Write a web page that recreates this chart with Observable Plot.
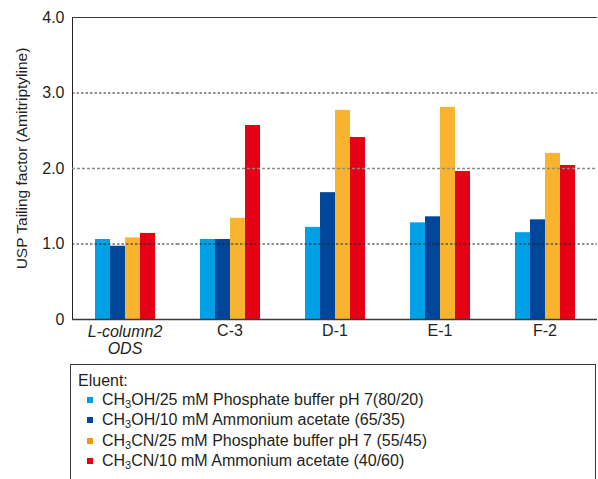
<!DOCTYPE html>
<html>
<head>
<meta charset="utf-8">
<script src="https://cdn.jsdelivr.net/npm/d3@7"></script>
<script src="https://cdn.jsdelivr.net/npm/@observablehq/plot@0.6"></script>
<style>
  html, body { margin: 0; padding: 0; background: #fff; }
  body { width: 598px; height: 479px; overflow: hidden; position: relative; font-family: "Liberation Sans", Arial, sans-serif; color: #231f20; }
  #legend { position: absolute; left: 70px; top: 364px; width: 526px; height: 140px; border: 1.5px solid #3a3a3a; box-sizing: border-box; font-size: 16px; }
  #legend .title { position: absolute; left: 7px; top: 7px; }
  #legend .row { position: absolute; left: 16px; display: flex; align-items: center; white-space: nowrap; }
  #legend .sw { width: 6px; height: 6px; margin-right: 9px; }
  #legend sub { font-size: 11px; vertical-align: -3px; line-height: 0; }
</style>
</head>
<body>
<div id="chart"></div>
<div id="legend"></div>
<script>
const categories = ["L-column2\nODS", "C-3", "D-1", "E-1", "F-2"];
const seriesNames = [
  "CH3OH/25 mM Phosphate buffer pH 7(80/20)",
  "CH3OH/10 mM Ammonium acetate (65/35)",
  "CH3CN/25 mM Phosphate buffer pH 7 (55/45)",
  "CH3CN/10 mM Ammonium acetate (40/60)"
];
const seriesColors = ["#00a0e6", "#00469b", "#f8b42e", "#e60016"];
const legendColors = ["#00a0e6", "#00469b", "#f39800", "#e60016"];
const phosphateMeOH = [1.06, 1.06, 1.22, 1.28, 1.15];
const acetateMeOH   = [0.97, 1.06, 1.68, 1.36, 1.32];
const phosphateMeCN = [1.08, 1.34, 2.77, 2.81, 2.20];
const acetateMeCN   = [1.14, 2.57, 2.41, 1.96, 2.04];
const yTicks = [0, 1, 2, 3, 4];
const yLabel = "USP Tailing factor (Amitriptyline)";

const seriesValues = [phosphateMeOH, acetateMeOH, phosphateMeCN, acetateMeCN];
const data = [];
categories.forEach((c, i) => {
  seriesNames.forEach((s, j) => data.push({cat: c, s, v: seriesValues[j][i]}));
});

const chart = Plot.plot({
  width: 598,
  height: 360,
  marginLeft: 70,
  marginRight: 0,
  marginTop: 17,
  marginBottom: 41,
  style: {fontFamily: "'Liberation Sans', Arial, sans-serif", fontSize: "16px", color: "#231f20", background: "#fff"},
  fx: {domain: categories, padding: 0, axis: null},
  x: {domain: seriesNames, paddingInner: 0, paddingOuter: 1.475, axis: null},
  y: {domain: [0, 4], ticks: yTicks, tickFormat: d => d === 0 ? "0" : d.toFixed(1), tickSize: 0, tickPadding: 8,
      line: true, label: null},
  color: {domain: seriesNames, range: seriesColors},
  marks: [
    Plot.barY(data, {fx: "cat", x: "s", y: "v", fill: "s"}),
    Plot.ruleY([1, 3], {stroke: "#222", strokeWidth: 1, strokeDasharray: "2.5,2"}),
    Plot.ruleY([2], {stroke: "#8a8a8a", strokeWidth: 1.5, strokeDasharray: "3,2"}),
    Plot.ruleY([4], {stroke: "#3a3a3a", strokeWidth: 1}),
    Plot.ruleY([0], {stroke: "#3a3a3a", strokeWidth: 1.5}),
    Plot.text([yLabel], {fx: () => categories[0], text: d => d, frameAnchor: "left", textAnchor: "middle", rotate: -90, dx: -50, dy: -10, fontSize: 15.5}),
    Plot.text(categories.slice(0, 1), {fx: d => d, text: d => d, frameAnchor: "bottom", lineAnchor: "top", dy: 5, fontStyle: "italic", lineHeight: 1.08}),
    Plot.text(categories.slice(1), {fx: d => d, text: d => d, frameAnchor: "bottom", lineAnchor: "top", dy: 5})
  ]
});
document.getElementById("chart").appendChild(chart);

const legend = document.getElementById("legend");
legend.innerHTML = '<div class="title">Eluent:</div>' + seriesNames.map((s, i) =>
  `<div class="row" style="top:${26 + i * 20.3}px"><span class="sw" style="background:${legendColors[i]}"></span><span>${s.replace("CH3", "CH<sub>3</sub>")}</span></div>`
).join("");
</script>
</body>
</html>
